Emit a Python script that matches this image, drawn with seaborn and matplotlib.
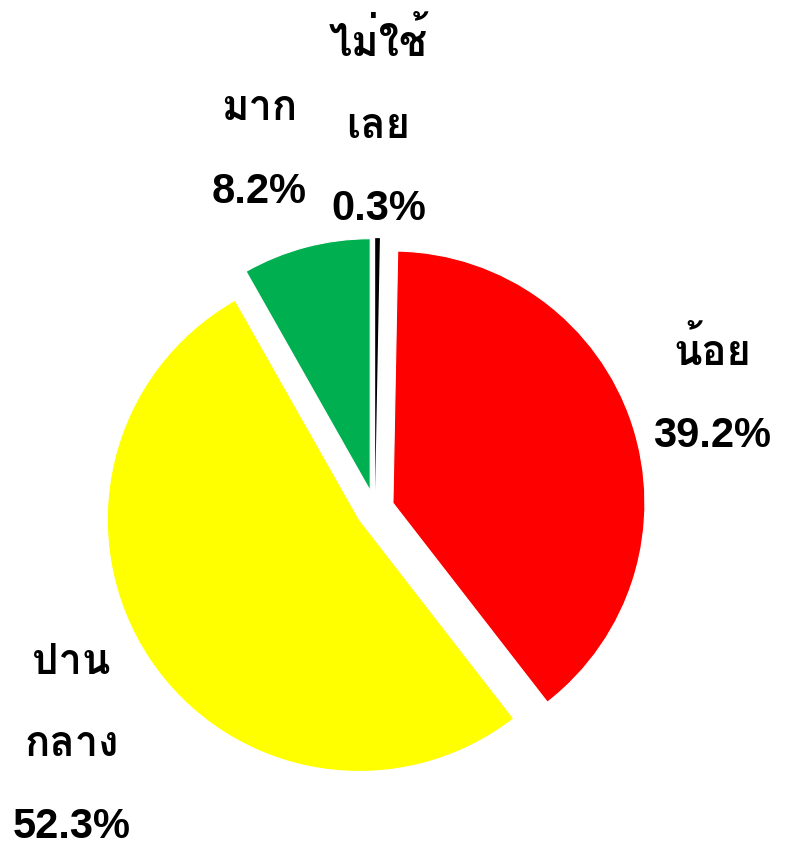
import numpy as np
import matplotlib
matplotlib.use('Agg')
import matplotlib.pyplot as plt
from matplotlib import font_manager
from matplotlib.ft2font import FT2Font
import seaborn as sns

labels = ['ไม่ใช้\nเลย', 'น้อย', 'ปาน\nกลาง', 'มาก']
values = [0.3, 39.2, 52.3, 8.2]
colors = ['#000000', '#FF0000', '#FFFF00', '#00B050']
# label placement: distance from wedge centre, angle nudge (deg)
label_dist = [1.45, 1.34, 1.45, 1.42]
label_nudge = [0.0, 0.7, 4.4, 3.3]

sns.set_theme(style='white')

# find an installed family that has Thai glyphs
thai_family = None
for f in font_manager.fontManager.ttflist:
    try:
        if 0x0E21 in FT2Font(f.fname).get_charmap():
            thai_family = f.name
            if f.weight in ('bold', 700):
                break
    except Exception:
        pass
fams = ['Liberation Sans']
if thai_family:
    fams.append(thai_family)
fams.append('DejaVu Sans')
plt.rcParams['font.family'] = fams

fig = plt.figure(figsize=(7.88, 8.48), dpi=100)
ax = fig.add_axes([0, 0, 1, 1])

texts = [f'{l}\n{v:.1f}%' for l, v in zip(labels, values)]
wedges, txts = ax.pie(values, labels=texts, colors=colors, startangle=90,
                      counterclock=False, explode=[0.075] * 4, radius=1,
                      wedgeprops=dict(edgecolor='white', linewidth=0.8),
                      textprops=dict(fontsize=30, fontweight='bold', color='black',
                                     linespacing=2.36))
# keep the tiny slice visible
wedges[0].set_linewidth(0)

for w, t, d, n in zip(wedges, txts, label_dist, label_nudge):
    ang = np.deg2rad((w.theta1 + w.theta2) / 2 + n)
    cx, cy = w.center
    t.set_position((cx + d * np.cos(ang), cy + d * np.sin(ang)))
    t.set_ha('center')
    t.set_va('center')

px = 252.0
ax.set_xlim(-375 / px, (788 - 375) / px)
ax.set_ylim(-(848 - 509) / px, 509 / px)
ax.set_aspect('equal')
ax.axis('off')

fig.savefig('out.png', dpi=100)
